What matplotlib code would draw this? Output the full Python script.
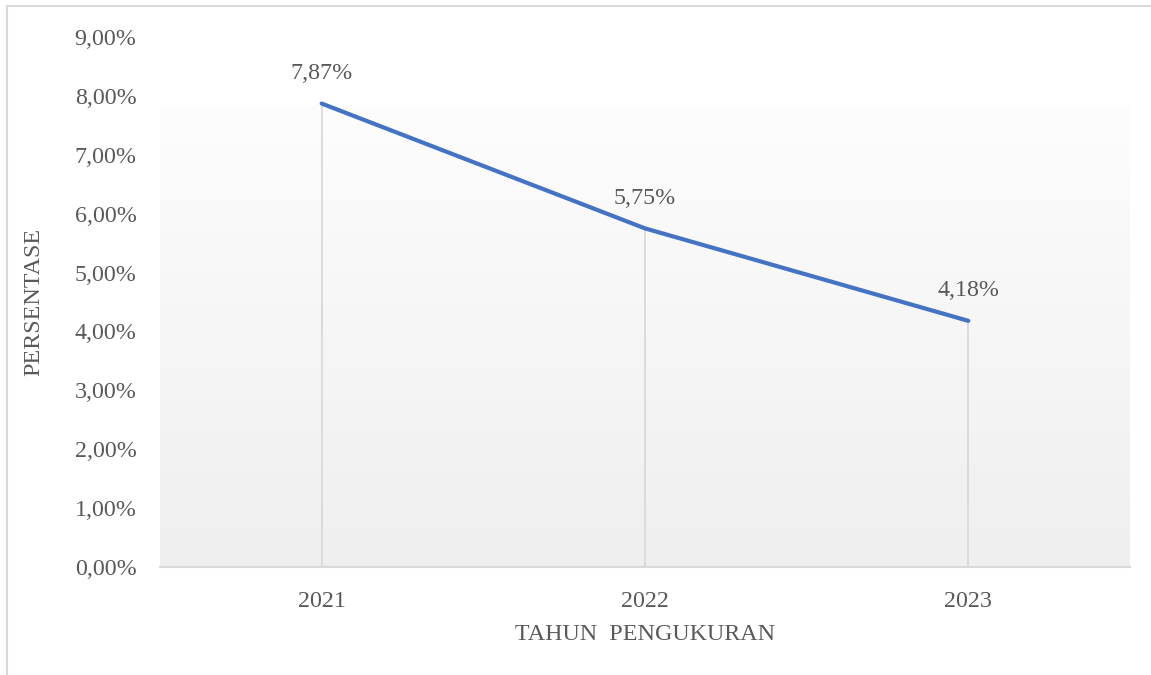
import matplotlib
matplotlib.use("Agg")
import matplotlib.pyplot as plt
import numpy as np
from matplotlib.lines import Line2D

years = ["2021", "2022", "2023"]
values = [7.87, 5.75, 4.18]
labels = ["7,87%", "5,75%", "4,18%"]
yticks = [0, 1, 2, 3, 4, 5, 6, 7, 8, 9]
ytick_labels = ["0,00%", "1,00%", "2,00%", "3,00%", "4,00%", "5,00%", "6,00%", "7,00%", "8,00%", "9,00%"]

plt.rcParams['font.family'] = ['Liberation Serif', 'DejaVu Serif']
txt = '#595959'
fs = 17.3

fig = plt.figure(figsize=(11.51, 6.75), dpi=100)
ax = fig.add_axes([160/1151, 108/675, 970/1151, 530/675])
x = np.arange(len(years))

# gradient plot area fill (light at top, darker at bottom)
grad_top = 7.84
grad = np.linspace(0.992, 0.937, 256).reshape(-1, 1)
ax.imshow(np.dstack([grad, grad, grad]), extent=(-0.5, 2.5, 0, grad_top), aspect='auto',
          zorder=0, origin='upper')
ax.set_xlim(-0.5, 2.5)
ax.set_ylim(0, 9)

for xi, v in zip(x, values):
    ax.plot([xi, xi], [0, v], color='#d9d9d9', lw=1.3, zorder=1)
ax.plot(x, values, color='#4472C4', lw=3.0, solid_capstyle='round', zorder=3)
for xi, v, lab in zip(x, values, labels):
    ax.annotate(lab, (xi, v), xytext=(0, 14), textcoords='offset points', ha='center', va='bottom',
                fontsize=fs, color=txt)

for s in ['top', 'right', 'left']:
    ax.spines[s].set_visible(False)
ax.spines['bottom'].set_color('#d9d9d9')
ax.spines['bottom'].set_linewidth(1.5)
ax.set_xticks(x)
ax.set_xticklabels(years)
ax.set_yticks(yticks)
ax.set_yticklabels(ytick_labels)
ax.tick_params(axis='both', length=0, labelsize=fs, labelcolor=txt)
ax.tick_params(axis='x', pad=17)
ax.tick_params(axis='y', pad=17)
ax.set_xlabel("TAHUN  PENGUKURAN", fontsize=fs, color=txt, labelpad=9)
ax.set_ylabel("PERSENTASE", fontsize=fs, color=txt)
ax.yaxis.set_label_coords(-0.119, 0.5)

fig.add_artist(Line2D([7/1151, 7/1151], [0, 1 - 6/675], color='#d9d9d9', lw=1.5))
fig.add_artist(Line2D([7/1151, 1], [1 - 6/675, 1 - 6/675], color='#d9d9d9', lw=1.5))

fig.savefig("out.png", dpi=100)
